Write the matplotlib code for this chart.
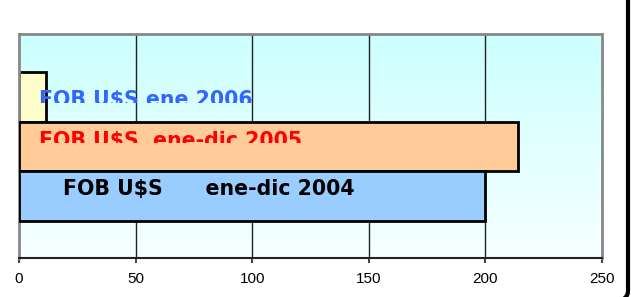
import numpy as np
import matplotlib
matplotlib.use("Agg")
import matplotlib.pyplot as plt
from matplotlib.patches import Rectangle, FancyBboxPatch
from matplotlib.colors import LinearSegmentedColormap

# data
series = ["FOB U\\$S ene 2006", "FOB U\\$S  ene-dic 2005", "FOB U\\$S      ene-dic 2004"]
values = [11.5, 214, 200]
ypos = [2, 1, 0]
bar_colors = ["#FFFFCC", "#FFCC99", "#99CCFF"]
text_colors = ["#3366FF", "#FF0000", "#000000"]
text_x = [8.6, 8.6, 19]
text_base = [1.82, 0.99, 0.02]
text_clip = [1.88, 1.07, None]
xticks = [0, 50, 100, 150, 200, 250]

fig = plt.figure(figsize=(6.31, 2.97), dpi=100)
ax = fig.add_axes([19 / 631, 39 / 297, 583 / 631, 224 / 297])
ax.set_xlim(0, 250)
ax.set_ylim(-1.25, 3.27)

# background gradient
grad = np.linspace(0, 1, 256).reshape(-1, 1)
cmap = LinearSegmentedColormap.from_list("bg", ["#F7FFFF", "#CCFFFF"])
ax.imshow(grad, extent=[0, 1, 0, 1], transform=ax.transAxes, origin="lower",
          cmap=cmap, aspect="auto", zorder=0)

for v in xticks[1:-1]:
    ax.axvline(v, color="#222222", lw=1.0, zorder=1)

for i in range(3):
    z = 2 + i * 2
    ax.barh(ypos[i], values[i], height=1.0, color=bar_colors[i],
            edgecolor="black", linewidth=2, zorder=z)
    t = ax.text(text_x[i], text_base[i], series[i], color=text_colors[i],
                fontsize=14.8, fontweight="bold", family="DejaVu Sans",
                va="baseline", ha="left", zorder=z + 1)
    if text_clip[i] is not None:
        clip = Rectangle((0, text_clip[i]), 250, 5, transform=ax.transData)
        t.set_clip_path(clip)
        t.set_clip_on(True)

ax.set_xticks(xticks)
ax.set_xticklabels([str(v) for v in xticks], family="Liberation Sans", fontsize=11)
ax.set_yticks([])
ax.tick_params(axis="x", direction="out", length=3.6, width=1.2, color="#222222", pad=6.5)
for s in ax.spines.values():
    s.set_color("#888888")
    s.set_linewidth(2)
ax.spines["bottom"].set_color("#222222")
ax.spines["bottom"].set_linewidth(1.5)

# slide frame at the right edge
frame = FancyBboxPatch((-100 / 631, -6 / 297), 728 / 631, 400 / 297,
                       boxstyle="round,pad=0,rounding_size=0.04",
                       transform=fig.transFigure, fill=False,
                       edgecolor="black", linewidth=3)
fig.patches.append(frame)

fig.savefig("out.png", dpi=100)
